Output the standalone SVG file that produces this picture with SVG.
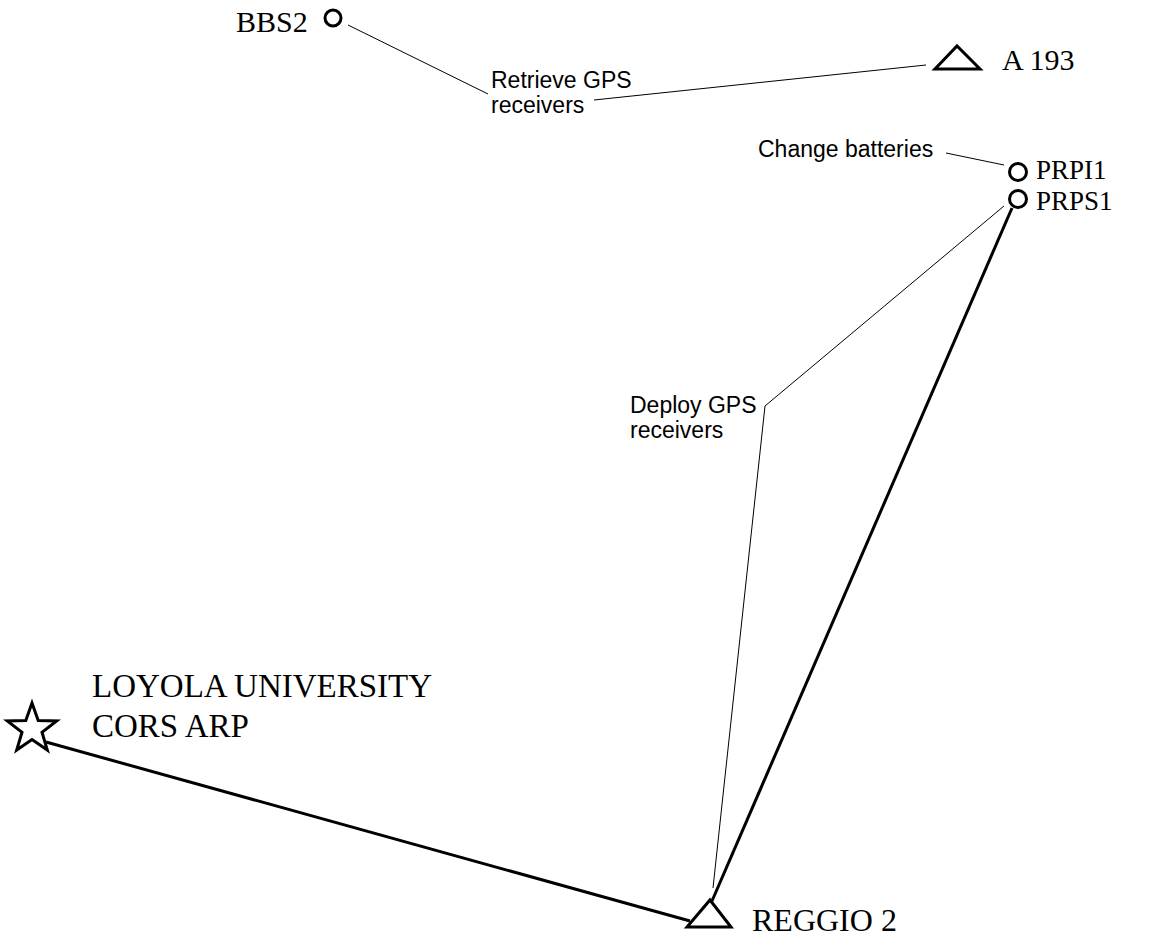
<svg xmlns="http://www.w3.org/2000/svg" width="1151" height="938" viewBox="0 0 1151 938">
<style>
.bg{fill:#ffffff}
.sym{fill:none;stroke:#000;stroke-width:3;stroke-linejoin:miter}
.thick{stroke:#000;stroke-width:3;fill:none}
.thin{stroke:#000;stroke-width:1;fill:none}
.name{font-family:"Liberation Serif","Times New Roman",serif;font-size:30px;fill:#000}
.note{font-family:"Liberation Sans",Arial,sans-serif;font-size:23px;fill:#000}
</style>
<rect class="bg" x="0" y="0" width="1151" height="938"/>
<g id="connectors">
<line class="thick" x1="46" y1="742" x2="690" y2="921"/>
<line class="thick" x1="1012" y1="208" x2="712" y2="901"/>
<polyline class="thin" points="1004,206 765,406 713,888"/>
<line class="thin" x1="348" y1="25" x2="488" y2="94"/>
<line class="thin" x1="594" y1="100" x2="926" y2="65"/>
<line class="thin" x1="946" y1="153" x2="1004" y2="165"/>
</g>
<g id="bbs2">
<circle class="sym" cx="333" cy="18" r="8"/>
<text class="name" x="236" y="32">BBS2</text>
</g>
<g id="a193">
<polygon class="sym" points="935,69 980,69 957,46"/>
<text class="name" x="1002" y="70">A 193</text>
</g>
<g id="prpi1">
<circle class="sym" cx="1018" cy="172" r="8.5"/>
<text class="name" x="1036" y="179" style="font-size:27px">PRPI1</text>
</g>
<g id="prps1">
<circle class="sym" cx="1018" cy="199" r="8.5"/>
<text class="name" x="1036" y="210" style="font-size:27px">PRPS1</text>
</g>
<g id="loyola">
<polygon class="sym" points="32,703 38.2,720.5 56.7,721 42,732.3 47.3,750 32,739.5 16.7,750 22,732.3 7.3,721 25.8,720.5"/>
<text class="name" x="92" y="697" style="font-size:33px">LOYOLA UNIVERSITY</text>
<text class="name" x="92" y="737" style="font-size:33px">CORS ARP</text>
</g>
<g id="reggio2">
<polygon class="sym" points="687,927 731,927 710,900"/>
<text class="name" x="752" y="931" style="font-size:32px">REGGIO 2</text>
</g>
<g id="labels">
<text class="note" x="491" y="88">Retrieve GPS</text>
<text class="note" x="491" y="113">receivers</text>
<text class="note" x="758" y="157">Change batteries</text>
<text class="note" x="630" y="413">Deploy GPS</text>
<text class="note" x="630" y="438">receivers</text>
</g>
</svg>
